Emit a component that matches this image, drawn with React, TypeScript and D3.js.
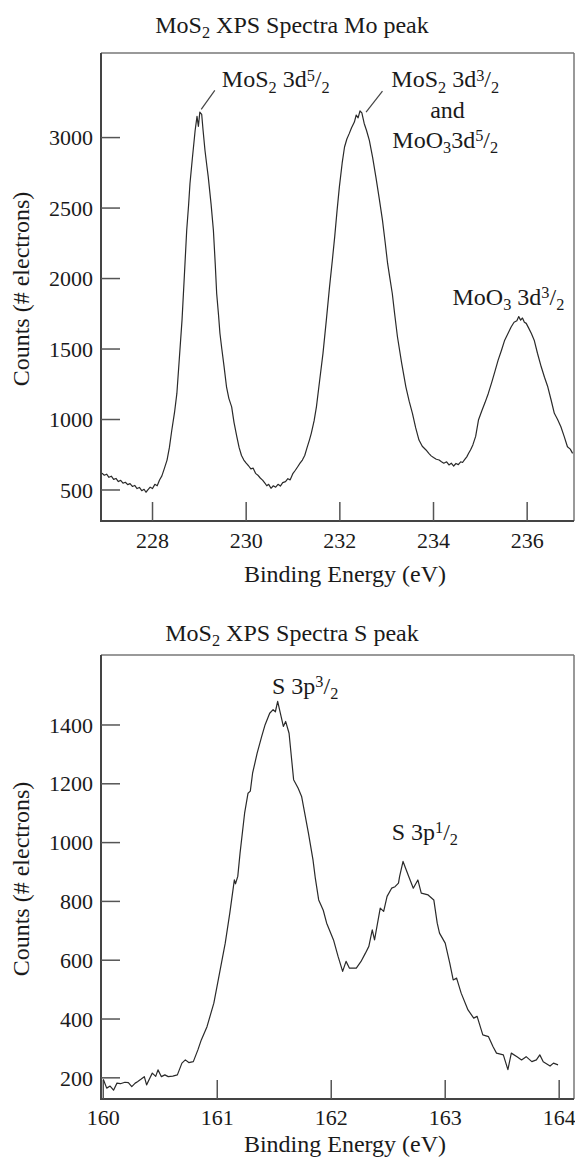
import React from 'react';
import * as d3 from 'd3';

// Mo 3d region: [binding energy eV, counts]
const moSpectrum: [number, number][] = [
  [226.92, 620], [226.97, 605], [227.02, 612], [227.07, 590], [227.12, 598], [227.17, 575],
  [227.22, 582], [227.27, 560], [227.32, 568], [227.37, 548], [227.42, 555], [227.47, 538],
  [227.52, 545], [227.57, 525], [227.62, 532], [227.67, 510], [227.72, 518], [227.77, 495],
  [227.82, 505], [227.86, 484], [227.9, 500], [227.95, 520], [228.0, 510], [228.05, 540],
  [228.1, 530], [228.15, 571], [228.2, 600], [228.25, 650], [228.31, 712], [228.36, 800],
  [228.41, 920], [228.47, 1050], [228.52, 1185], [228.57, 1420], [228.63, 1705], [228.68, 2020],
  [228.73, 2343], [228.77, 2520], [228.8, 2674], [228.85, 2850], [228.91, 3050], [228.95, 3150],
  [228.98, 3080], [229.01, 3180], [229.05, 3165], [229.08, 3050], [229.12, 2910], [229.16, 2800],
  [229.19, 2721], [229.25, 2530], [229.3, 2343], [229.34, 2100], [229.37, 1894], [229.41, 1740],
  [229.44, 1610], [229.48, 1500], [229.53, 1370], [229.58, 1232], [229.63, 1150], [229.69, 1090],
  [229.74, 980], [229.8, 878], [229.85, 800], [229.9, 745], [229.95, 712], [230.0, 690],
  [230.05, 672], [230.1, 650], [230.15, 655], [230.2, 618], [230.25, 605], [230.3, 585],
  [230.35, 570], [230.4, 548], [230.44, 530], [230.48, 540], [230.53, 512], [230.58, 530],
  [230.63, 520], [230.68, 540], [230.73, 528], [230.78, 552], [230.84, 559], [230.89, 580],
  [230.94, 572], [231.0, 618], [231.05, 640], [231.1, 665], [231.15, 690], [231.2, 712],
  [231.25, 745], [231.3, 800], [231.35, 854], [231.39, 902], [231.45, 990], [231.5, 1090],
  [231.57, 1280], [231.64, 1469], [231.71, 1700], [231.78, 1941], [231.84, 2130], [231.89, 2296],
  [231.94, 2480], [231.99, 2650], [232.05, 2820], [232.1, 2933], [232.15, 2990], [232.2, 3028],
  [232.25, 3070], [232.31, 3110], [232.35, 3160], [232.39, 3140], [232.43, 3190], [232.47, 3175],
  [232.52, 3100], [232.57, 3050], [232.63, 2980], [232.7, 2860], [232.77, 2720], [232.84, 2570],
  [232.91, 2414], [232.97, 2250], [233.02, 2107], [233.07, 2000], [233.12, 1894], [233.17, 1750],
  [233.23, 1587], [233.32, 1400], [233.41, 1232], [233.48, 1130], [233.55, 1044], [233.62, 940],
  [233.69, 854], [233.76, 810], [233.84, 784], [233.9, 760], [233.95, 742], [234.0, 730],
  [234.06, 718], [234.12, 713], [234.17, 700], [234.22, 690], [234.28, 700], [234.33, 678],
  [234.38, 690], [234.43, 670], [234.48, 688], [234.53, 680], [234.58, 700], [234.62, 695],
  [234.66, 713], [234.71, 735], [234.75, 760], [234.79, 784], [234.84, 820], [234.9, 880],
  [234.96, 996], [235.03, 1060], [235.1, 1120], [235.17, 1185], [235.24, 1260], [235.31, 1340],
  [235.38, 1421], [235.45, 1490], [235.52, 1563], [235.59, 1610], [235.66, 1658], [235.72, 1690],
  [235.78, 1700], [235.82, 1730], [235.86, 1705], [235.9, 1720], [235.94, 1690], [235.98, 1682],
  [236.03, 1650], [236.09, 1610], [236.15, 1563], [236.22, 1470], [236.3, 1374], [236.37, 1300],
  [236.44, 1232], [236.51, 1140], [236.58, 1044], [236.65, 1000], [236.72, 949], [236.79, 880],
  [236.86, 807], [236.92, 790], [236.97, 760],
];

// S 2p region: [binding energy eV, counts]
const sSpectrum: [number, number][] = [
  [160.0, 195], [160.03, 165], [160.06, 172], [160.09, 158], [160.12, 182], [160.15, 180],
  [160.19, 185], [160.22, 184], [160.25, 170], [160.28, 182], [160.3, 187], [160.33, 195],
  [160.36, 204], [160.38, 176], [160.41, 200], [160.43, 216], [160.46, 205], [160.48, 227],
  [160.51, 204], [160.54, 210], [160.57, 204], [160.61, 206], [160.65, 210], [160.69, 250],
  [160.72, 261], [160.75, 252], [160.79, 255], [160.83, 295], [160.86, 329], [160.91, 374],
  [160.97, 454], [161.02, 556], [161.07, 658], [161.11, 760], [161.15, 873], [161.16, 860],
  [161.18, 885], [161.2, 964], [161.24, 1100], [161.27, 1168], [161.29, 1175], [161.31, 1236],
  [161.35, 1304], [161.39, 1361], [161.42, 1401], [161.46, 1440], [161.49, 1452], [161.51, 1445],
  [161.53, 1480], [161.56, 1429], [161.58, 1395], [161.6, 1412], [161.63, 1372], [161.67, 1214],
  [161.71, 1185], [161.74, 1157], [161.8, 1032], [161.84, 941], [161.86, 880], [161.89, 805],
  [161.93, 770], [161.96, 726], [162.02, 669], [162.06, 613], [162.1, 562], [162.13, 596],
  [162.16, 573], [162.22, 573], [162.26, 595], [162.3, 624], [162.33, 647], [162.36, 703],
  [162.38, 669], [162.43, 777], [162.46, 766], [162.49, 817], [162.53, 845], [162.56, 850],
  [162.59, 862], [162.6, 885], [162.63, 936], [162.66, 905], [162.68, 885], [162.72, 845],
  [162.76, 873], [162.79, 828], [162.85, 822], [162.9, 805], [162.93, 726], [162.95, 692],
  [163.0, 658], [163.04, 590], [163.07, 533], [163.1, 539], [163.14, 488], [163.2, 431],
  [163.25, 403], [163.28, 409], [163.33, 346], [163.38, 340], [163.42, 306], [163.45, 284],
  [163.51, 278], [163.55, 228], [163.58, 284], [163.63, 272], [163.67, 261], [163.71, 272],
  [163.76, 255], [163.8, 261], [163.83, 278], [163.86, 255], [163.92, 240], [163.95, 250],
  [163.99, 244],
];

const moXTicks = [228, 230, 232, 234, 236];
const moYTicks = [500, 1000, 1500, 2000, 2500, 3000];
const sXTicks = [160, 161, 162, 163, 164];
const sYTicks = [200, 400, 600, 800, 1000, 1200, 1400];

type Seg = [string, '' | 'sub' | 'sup'];

const moTitle: Seg[] = [['MoS', ''], ['2', 'sub'], [' XPS Spectra Mo peak', '']];
const sTitle: Seg[] = [['MoS', ''], ['2', 'sub'], [' XPS Spectra S peak', '']];
const xLabel = 'Binding Energy (eV)';
const yLabel = 'Counts (# electrons)';

const lblMo5: Seg[] = [['MoS', ''], ['2', 'sub'], [' 3d', ''], ['5', 'sup'], ['/', ''], ['2', 'sub']];
const lblMo3a: Seg[] = [['MoS', ''], ['2', 'sub'], [' 3d', ''], ['3', 'sup'], ['/', ''], ['2', 'sub']];
const lblAnd: Seg[] = [['and', '']];
const lblMo3c: Seg[] = [['MoO', ''], ['3', 'sub'], ['3d', ''], ['5', 'sup'], ['/', ''], ['2', 'sub']];
const lblMoO3: Seg[] = [['MoO', ''], ['3', 'sub'], [' 3d', ''], ['3', 'sup'], ['/', ''], ['2', 'sub']];
const lblS3: Seg[] = [['S 3p', ''], ['3', 'sup'], ['/', ''], ['2', 'sub']];
const lblS1: Seg[] = [['S 3p', ''], ['1', 'sup'], ['/', ''], ['2', 'sub']];

const FONT = 'Liberation Serif, Times New Roman, DejaVu Serif, serif';

const Rich = ({ segs, x, y, anchor = 'start', size = 24 }: any) => {
  let cur = 0;
  return (
    <text x={x} y={y} textAnchor={anchor} fontSize={size} fontFamily={FONT} fill="#1a1a1a"
      style={{ whiteSpace: 'pre' }}>
      {segs.map(([t, k]: Seg, i: number) => {
        const target = k === 'sub' ? size * 0.22 : k === 'sup' ? -size * 0.28 : 0;
        const dy = target - cur;
        cur = target;
        return (
          <tspan key={i} dy={dy} fontSize={k ? size * 0.68 : size}>{t}</tspan>
        );
      })}
    </text>
  );
};

const Panel = ({ data, xDomain, yDomain, xTicks, yTicks, top, bottom, title, titleY, tickY, labelY, children }: any) => {
  const left = 101;
  const right = 574;
  const x = d3.scaleLinear().domain(xDomain).range([left, right]);
  const y = d3.scaleLinear().domain(yDomain).range([bottom, top]);
  const line = d3.line<[number, number]>().x(d => x(d[0])).y(d => y(d[1]));
  const tickLen = 19;
  return (
    <g>
      <Rich segs={title} x={292} y={titleY} anchor="middle" size={24} />
      <line x1={left} x2={right} y1={top} y2={top} stroke="#777" strokeWidth={1.5} />
      <line x1={right} x2={right} y1={top} y2={bottom} stroke="#777" strokeWidth={1.5} />
      <line x1={left} x2={left} y1={top} y2={bottom + 1} stroke="#444" strokeWidth={2} />
      <line x1={left - 1} x2={right} y1={bottom} y2={bottom} stroke="#444" strokeWidth={2} />
      {xTicks.map((t: number) => (
        <g key={'x' + t}>
          <line x1={x(t)} x2={x(t)} y1={bottom} y2={bottom - tickLen} stroke="#555" strokeWidth={1.5} />
          <text x={x(t)} y={tickY} textAnchor="middle" fontSize={22} fontFamily={FONT} fill="#1a1a1a">{t}</text>
        </g>
      ))}
      {yTicks.map((t: number) => (
        <g key={'y' + t}>
          <line x1={left} x2={left + tickLen} y1={y(t)} y2={y(t)} stroke="#555" strokeWidth={1.5} />
          <text x={93} y={y(t)} dy="0.35em" textAnchor="end" fontSize={22} fontFamily={FONT} fill="#1a1a1a">{t}</text>
        </g>
      ))}
      <path d={line(data) || ''} fill="none" stroke="#2a2a2a" strokeWidth={1.2} strokeLinejoin="round" />
      <text x={345} y={labelY} textAnchor="middle" fontSize={24} fontFamily={FONT} fill="#1a1a1a">{xLabel}</text>
      <text transform={`translate(29,${(top + bottom) / 2 + 2}) rotate(-90)`} textAnchor="middle" fontSize={24}
        fontFamily={FONT} fill="#1a1a1a">{yLabel}</text>
      {children(x, y)}
    </g>
  );
};

export default function App() {
  return (
    <svg width={575} height={1162} style={{ position: 'absolute', left: 0, top: 0, background: '#fff' }}>
      <rect width={575} height={1162} fill="#fff" />
      <Panel data={moSpectrum} xDomain={[226.9, 237]} yDomain={[280, 3600]} xTicks={moXTicks} yTicks={moYTicks}
        top={53} bottom={521} title={moTitle} titleY={33} tickY={548} labelY={582}>
        {(x: any, y: any) => (
          <g>
            <line x1={x(229.04)} y1={y(3200)} x2={x(229.33)} y2={y(3335)} stroke="#444" strokeWidth={1.2} />
            <Rich segs={lblMo5} x={x(229.48)} y={y(3357)} />
            <line x1={x(232.56)} y1={y(3181)} x2={x(232.91)} y2={y(3330)} stroke="#444" strokeWidth={1.2} />
            <Rich segs={lblMo3a} x={x(234.25)} y={y(3357)} anchor="middle" />
            <Rich segs={lblAnd} x={x(234.3)} y={y(3137)} anchor="middle" />
            <Rich segs={lblMo3c} x={x(234.25)} y={y(2926)} anchor="middle" />
            <Rich segs={lblMoO3} x={x(235.6)} y={y(1811)} anchor="middle" />
          </g>
        )}
      </Panel>
      <Panel data={sSpectrum} xDomain={[159.98, 164.13]} yDomain={[128, 1638]} xTicks={sXTicks} yTicks={sYTicks}
        top={655} bottom={1099} title={sTitle} titleY={641} tickY={1125} labelY={1152}>
        {(x: any, y: any) => (
          <g>
            <Rich segs={lblS3} x={x(161.48)} y={y(1506)} />
            <Rich segs={lblS1} x={x(162.53)} y={y(1010)} />
          </g>
        )}
      </Panel>
    </svg>
  );
}
